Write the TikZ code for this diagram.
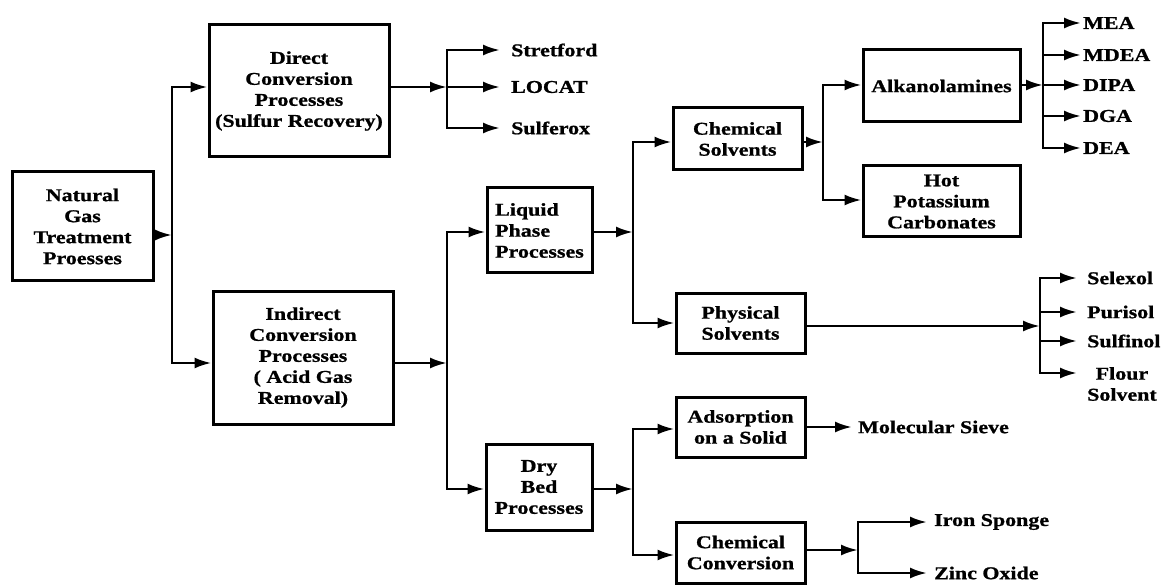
\documentclass[tikz,border=0pt]{standalone}
\usepackage{fontspec}
\setmainfont[FakeStretch=1.22,BoldFeatures={FakeBold=1}]{Liberation Serif}
\usetikzlibrary{arrows.meta}
\begin{document}
\begin{tikzpicture}[x=1pt,y=-1pt,
  txt/.style={font=\bfseries\fontsize{18}{21}\selectfont},
  box/.style={txt,draw,line width=3pt,inner sep=0pt,align=center},
  leaf/.style={txt,anchor=west,inner ysep=0pt,inner xsep=#1,align=center},
  leaf/.default=3pt,
  conn/.style={line width=2.6pt},
  arr/.style={conn,-{Latex[length=17pt,width=11pt]}}]
\useasboundingbox (0,0) rectangle (1172,585);
% boxes
\node[box,minimum width=141pt,minimum height=109pt] (ng) at (82.5,226.5) {Natural\\Gas\\Treatment\\Proesses};
\node[box,minimum width=180pt,minimum height=132pt] (direct) at (299,91) {Direct\\Conversion\\Processes\\(Sulfur Recovery)};
\node[box,minimum width=180pt,minimum height=133pt] (indirect) at (303,357.5) {Indirect\\Conversion\\Processes\\( Acid Gas\\Removal)};
\node[box,minimum width=105pt,minimum height=85pt,align=left] (liquid) at (539.5,230.5) {Liquid\\Phase\\Processes};
\node[box,minimum width=106pt,minimum height=86pt] (dry) at (539,487) {Dry\\Bed\\Processes};
\node[box,minimum width=129pt,minimum height=62pt] (chemsolv) at (737.5,139) {Chemical\\Solvents};
\node[box,minimum width=129pt,minimum height=60pt] (physsolv) at (740.5,323) {Physical\\Solvents};
\node[box,minimum width=129pt,minimum height=60pt] (adsorb) at (740.5,427) {Adsorption\\on a Solid};
\node[box,minimum width=129pt,minimum height=61pt] (chemconv) at (740.5,552.5) {Chemical\\Conversion};
\node[box,minimum width=157pt,minimum height=72pt] (alkanol) at (941.5,86) {Alkanolamines};
\node[box,minimum width=157pt,minimum height=71pt] (hotpot) at (941.5,201.5) {Hot\\Potassium\\Carbonates};
% leaves
\node[leaf=11pt] (stretford) at (500,50) {Stretford};
\node[leaf=11pt] (locat) at (500,87) {LOCAT};
\node[leaf=11pt] (sulferox) at (500,128) {Sulferox};
\node[leaf=2pt] (mea) at (1081,23) {MEA};
\node[leaf=2pt] (mdea) at (1081,55) {MDEA};
\node[leaf=2pt] (dipa) at (1081,85) {DIPA};
\node[leaf=2pt] (dga) at (1081,116) {DGA};
\node[leaf=2pt] (dea) at (1081,148) {DEA};
\node[leaf=10pt] (selexol) at (1077,278) {Selexol};
\node[leaf=10pt] (purisol) at (1077,312) {Purisol};
\node[leaf=10pt] (sulfinol) at (1077,341) {Sulfinol};
\node[leaf=10pt] (flour) at (1077,384) {Flour\\Solvent};
\node[leaf=6pt] (molsieve) at (852,427) {Molecular Sieve};
\node[leaf=7pt] (iron) at (927,522) {Iron Sponge};
\node[leaf=7pt] (zinc) at (927,573) {Zinc Oxide};
% junctions
\coordinate (j1) at (172,235);
\coordinate (j2) at (447,87);
\coordinate (j3) at (447,363);
\coordinate (j4) at (633,232);
\coordinate (j5) at (633,489);
\coordinate (j6) at (823,142);
\coordinate (j7) at (1043,85);
\coordinate (j8) at (1040,326);
\coordinate (j9) at (858,550);
% connectors
\draw[arr] (ng.east |- j1) -- (j1);
\draw[arr] (j1) |- ([yshift=4pt]direct.west);
\draw[arr] (j1) |- ([yshift=-5.5pt]indirect.west);
\draw[arr] ([yshift=4pt]direct.east) -- (j2);
\draw[arr] (j2) |- (stretford.west);
\draw[arr] (j2) |- (locat.west);
\draw[arr] (j2) |- (sulferox.west);
\draw[arr] ([yshift=-5.5pt]indirect.east) -- (j3);
\draw[arr] (j3) |- ([yshift=-1.5pt]liquid.west);
\draw[arr] (j3) |- ([yshift=-2pt]dry.west);
\draw[arr] ([yshift=-1.5pt]liquid.east) -- (j4);
\draw[arr] (j4) |- ([yshift=-3pt]chemsolv.west);
\draw[arr] (j4) |- (physsolv.west);
\draw[arr] ([yshift=-2pt]dry.east) -- (j5);
\draw[arr] (j5) |- ([yshift=-2pt]adsorb.west);
\draw[arr] (j5) |- ([yshift=-2.5pt]chemconv.west);
\draw[arr] ([yshift=-3pt]chemsolv.east) -- (j6);
\draw[arr] (j6) |- ([yshift=1pt]alkanol.west);
\draw[arr] (j6) |- ([yshift=1.5pt]hotpot.west);
\draw[arr] ([yshift=1pt]alkanol.east) -- (j7);
\draw[arr] (j7) |- (mea.west);
\draw[arr] (j7) |- (mdea.west);
\draw[arr] (j7) |- (dipa.west);
\draw[arr] (j7) |- (dga.west);
\draw[arr] (j7) |- (dea.west);
\draw[arr] ([yshift=-3pt]physsolv.east) -- (j8);
\draw[arr] (j8) |- (selexol.west);
\draw[arr] (j8) |- (purisol.west);
\draw[arr] (j8) |- (sulfinol.west);
\draw[arr] (j8) |- ([yshift=11pt]flour.west);
\draw[arr] (adsorb.east) -- (molsieve.west);
\draw[arr] ([yshift=2.5pt]chemconv.east) -- (j9);
\draw[arr] (j9) |- (iron.west);
\draw[arr] (j9) |- (zinc.west);
\end{tikzpicture}
\end{document}
